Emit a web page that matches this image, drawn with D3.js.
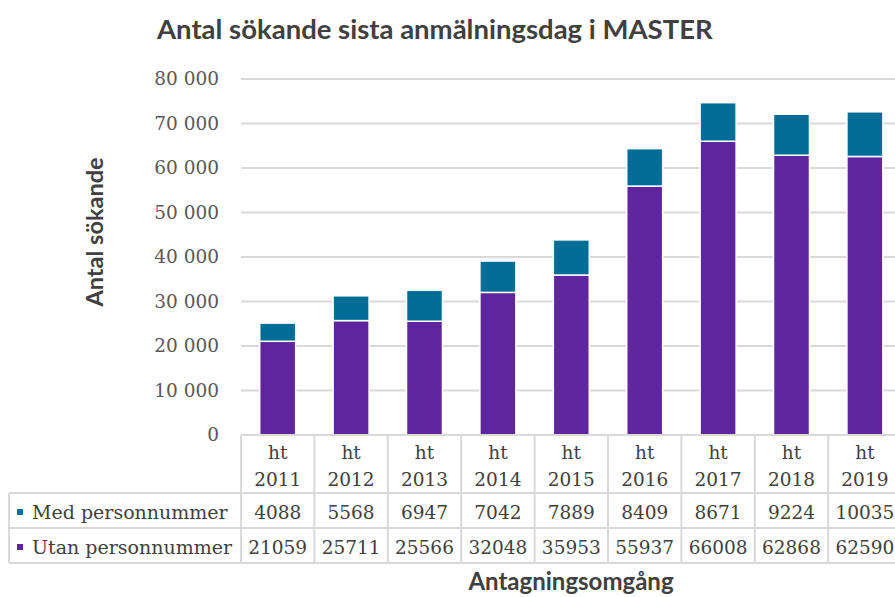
<!DOCTYPE html>
<html>
<head>
<meta charset="utf-8">
<script src="https://cdn.jsdelivr.net/npm/d3@7"></script>
<style>
  body { margin: 0; background: #fff; }
  svg { display: block; }
</style>
</head>
<body>
<script>
// data
const years = ['2011', '2012', '2013', '2014', '2015', '2016', '2017', '2018', '2019']
const medPnr = [4088, 5568, 6947, 7042, 7889, 8409, 8671, 9224, 10035]
const utanPnr = [21059, 25711, 25566, 32048, 35953, 55937, 66008, 62868, 62590]
const seriesNames = ['Med personnummer', 'Utan personnummer']
const yTicks = [0, 10000, 20000, 30000, 40000, 50000, 60000, 70000, 80000]

const width = 895
const height = 597
const colors = { med: '#006d97', utan: '#5f259f' }
const gridColor = '#d9d9d9'
const textColor = '#404040'

const svg = d3.select('body')
  .append('svg')
  .attr('width', width)
  .attr('height', height)

// plot area
const plot = { left: 241, top: 79, bottom: 435 }
const colStep = 73.4

const x = d3.scaleBand()
  .domain(years)
  .range([plot.left, plot.left + colStep * years.length])
  .padding(0)

const y = d3.scaleLinear()
  .domain([0, 80000])
  .range([plot.bottom, plot.top])

// gridlines
svg.append('g')
  .selectAll('line')
  .data(yTicks.filter(d => d > 0))
  .enter()
  .append('line')
  .attr('x1', plot.left)
  .attr('x2', width)
  .attr('y1', d => y(d))
  .attr('y2', d => y(d))
  .style('stroke', gridColor)
  .style('stroke-width', '2px')

// y tick labels
const fmt = d => d3.format(',')(d).replace(/,/g, ' ')
svg.append('g')
  .selectAll('text')
  .data(yTicks)
  .enter()
  .append('text')
  .attr('x', 219)
  .attr('y', d => y(d))
  .attr('dy', '0.35em')
  .attr('text-anchor', 'end')
  .style('font-family', 'DejaVu Serif')
  .style('font-size', '18.5px')
  .style('fill', '#595959')
  .text(fmt)

// stacked bars
const rows = years.map((yr, i) => ({ year: yr, utan: utanPnr[i], med: medPnr[i] }))
const stack = d3.stack().keys(['utan', 'med'])(rows)
const barW = x.bandwidth() * 0.49

svg.append('g')
  .selectAll('g')
  .data(stack)
  .enter()
  .append('g')
  .style('fill', d => colors[d.key])
  .selectAll('rect')
  .data(d => d)
  .enter()
  .append('rect')
  .attr('x', d => x(d.data.year) + (x.bandwidth() - barW) / 2)
  .attr('width', barW)
  .attr('y', d => y(d[1]))
  .attr('height', d => y(d[0]) - y(d[1]))
  .style('stroke', '#fff')
  .style('stroke-width', '1.5px')

// data table
const tbl = { left: 9, labelRight: plot.left, top: plot.bottom, head: 493, r1: 528, r2: 563 }
const right = x.range()[1]
const lines = svg.append('g')
  .style('stroke', gridColor)
  .style('stroke-width', '2px')

const hLine = (yy, x1) => lines.append('line')
  .attr('x1', x1).attr('x2', right).attr('y1', yy).attr('y2', yy)
hLine(tbl.top, plot.left)
hLine(tbl.head, tbl.left)
hLine(tbl.r1, tbl.left)
hLine(tbl.r2, tbl.left)

lines.append('line')
  .attr('x1', tbl.left).attr('x2', tbl.left)
  .attr('y1', tbl.head).attr('y2', tbl.r2)

lines.selectAll('line.col')
  .data(years.map(d => x(d)).concat([right]))
  .enter()
  .append('line')
  .attr('class', 'col')
  .attr('x1', d => d).attr('x2', d => d)
  .attr('y1', tbl.top).attr('y2', tbl.r2)

const cellText = svg.append('g')
  .style('font-family', 'DejaVu Serif')
  .style('font-size', '18.5px')
  .style('fill', textColor)
  .attr('text-anchor', 'middle')

years.forEach((yr, i) => {
  const cx = x(yr) + x.bandwidth() / 2
  cellText.append('text').attr('x', cx).attr('y', 459).text('ht')
  cellText.append('text').attr('x', cx).attr('y', 486).text(yr)
  cellText.append('text').attr('x', cx).attr('y', 519).text(medPnr[i])
  cellText.append('text').attr('x', cx).attr('y', 554).text(utanPnr[i])
})

// legend keys in the table
const legendRows = [
  { name: seriesNames[0], color: colors.med, y: 519 },
  { name: seriesNames[1], color: colors.utan, y: 554 }
]
legendRows.forEach(r => {
  svg.append('rect')
    .attr('x', 17)
    .attr('y', r.y - 10)
    .attr('width', 6)
    .attr('height', 6)
    .style('fill', r.color)
  svg.append('text')
    .attr('x', 32)
    .attr('y', r.y)
    .style('font-family', 'DejaVu Serif')
    .style('font-size', '19px')
    .style('fill', textColor)
    .text(r.name)
})

// titles
svg.append('text')
  .attr('x', 157)
  .attr('y', 39)
  .style('font-family', 'Lato')
  .style('font-weight', 'bold')
  .style('font-size', '27.5px')
  .style('fill', textColor)
  .text('Antal sökande sista anmälningsdag i MASTER')

svg.append('text')
  .attr('transform', 'translate(103,232) rotate(-90)')
  .attr('text-anchor', 'middle')
  .style('font-family', 'Lato')
  .style('font-weight', 'bold')
  .style('font-size', '23.5px')
  .style('fill', textColor)
  .text('Antal sökande')

svg.append('text')
  .attr('x', 571)
  .attr('y', 590)
  .attr('text-anchor', 'middle')
  .style('font-family', 'Lato')
  .style('font-weight', 'bold')
  .style('font-size', '24px')
  .style('fill', textColor)
  .text('Antagningsomgång')
</script>
</body>
</html>
